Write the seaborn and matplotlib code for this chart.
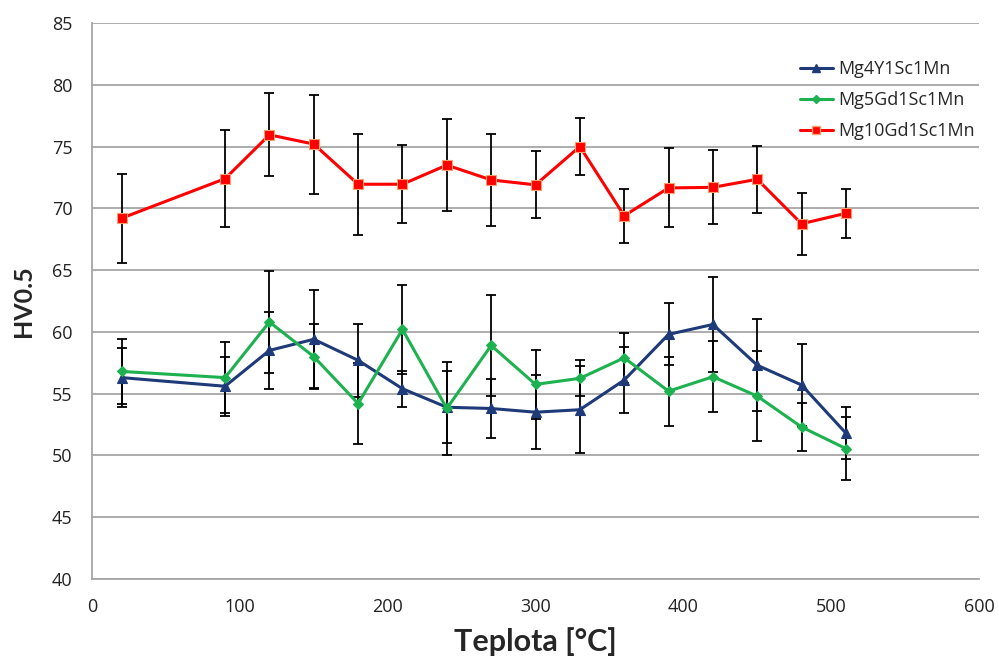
import numpy as np
import pandas as pd
import matplotlib
matplotlib.use("Agg")
import matplotlib.pyplot as plt
import seaborn as sns
from matplotlib.lines import Line2D

# ---- data ----
temps = [20, 90, 120, 150, 180, 210, 240, 270, 300, 330, 360, 390, 420, 450, 480, 510]
series_names = ["Mg4Y1Sc1Mn", "Mg5Gd1Sc1Mn", "Mg10Gd1Sc1Mn"]
mg4y = [56.3, 55.6, 58.5, 59.4, 57.7, 55.4, 53.9, 53.8, 53.5, 53.7, 56.1, 59.8, 60.6, 57.3, 55.7, 51.8]
mg4y_err = [2.4, 2.4, 3.1, 3.95, 2.95, 1.45, 2.9, 2.4, 3.0, 3.5, 2.67, 2.5, 3.85, 3.73, 3.34, 2.1]
mg5gd = [56.8, 56.3, 60.8, 58.0, 54.2, 60.2, 53.8, 58.9, 55.75, 56.24, 57.9, 55.2, 56.37, 54.8, 52.3, 50.55]
mg5gd_err = [2.6, 2.9, 4.1, 2.6, 3.3, 3.6, 3.8, 4.05, 2.8, 1.45, 2.0, 2.78, 2.87, 3.65, 1.93, 2.57]
mg10gd = [69.2, 72.4, 75.95, 75.2, 71.95, 71.95, 73.5, 72.3, 71.9, 75.0, 69.4, 71.65, 71.7, 72.35, 68.75, 69.6]
mg10gd_err = [3.6, 3.95, 3.35, 4.0, 4.1, 3.15, 3.7, 3.7, 2.7, 2.3, 2.2, 3.2, 3.0, 2.7, 2.5, 2.0]
x_ticks = [0, 100, 200, 300, 400, 500, 600]
y_ticks = [40, 45, 50, 55, 60, 65, 70, 75, 80, 85]

values = [mg4y, mg5gd, mg10gd]
errors = [mg4y_err, mg5gd_err, mg10gd_err]
colors = ["#1F3A78", "#1DB150", "#FF0000"]
markers = ["^", "D", "s"]
msizes = [7, 5, 7]
medges = ["#1F3A78", "#1DB150", "#F7A070"]

df = pd.DataFrame({
    "Teplota": temps * 3,
    "HV": mg4y + mg5gd + mg10gd,
    "Slitina": sum([[n] * len(temps) for n in series_names], []),
})

sns.set_style("white")
plt.rcParams["font.family"] = ["Open Sans", "DejaVu Sans"]

fig = plt.figure(figsize=(9.99, 6.64), dpi=100)
ax = fig.add_axes([92 / 999, 1 - 579 / 664, (979 - 92) / 999, (579 - 23) / 664])

# error bars
for v, e in zip(values, errors):
    ax.errorbar(temps, v, yerr=e, fmt="none", ecolor="black", elinewidth=1.3,
                capsize=3.5, capthick=1.3, zorder=2)

sns.lineplot(data=df, x="Teplota", y="HV", hue="Slitina", style="Slitina",
             hue_order=series_names, style_order=series_names,
             palette=colors, markers=markers, dashes=False, linewidth=2.2,
             ax=ax, zorder=3, legend=False)

for line, ms, me in zip(ax.get_lines()[-3:], msizes, medges):
    line.set_markersize(ms)
    line.set_markeredgecolor(me)
    line.set_markeredgewidth(0.8)

ax.set_xlim(0, 600)
ax.set_ylim(40, 85)
ax.set_xticks(x_ticks)
ax.set_yticks(y_ticks)
ax.grid(axis="y", color="#A6A6A6", linewidth=1.3)
ax.set_axisbelow(True)
for s in ["top", "right"]:
    ax.spines[s].set_visible(False)
for s in ["left", "bottom"]:
    ax.spines[s].set_color("#A6A6A6")
    ax.spines[s].set_linewidth(1.3)
ax.tick_params(axis="both", direction="out", length=6, width=1.3, color="#A6A6A6",
               labelsize=13, labelcolor="#222222")
ax.tick_params(axis="x", pad=8)
ax.tick_params(axis="y", pad=8)

ax.set_xlabel("Teplota [°C]", fontsize=22, fontweight="bold", family=["Lato", "DejaVu Sans"], labelpad=8)
ax.set_ylabel("HV0.5", fontsize=18, fontweight="bold", family=["Lato", "DejaVu Sans"], labelpad=12)

handles = [Line2D([0], [0], color=c, marker=m, markersize=ms * 0.8, markeredgecolor=me,
                  linewidth=2.2) for c, m, ms, me in zip(colors, markers, msizes, medges)]
leg = ax.legend(handles, series_names, loc="upper left", bbox_to_anchor=(0.78, 0.962),
                frameon=False, fontsize=13, handlelength=1.8, labelspacing=0.72,
                handletextpad=0.3)

fig.savefig("out.png", dpi=100)
